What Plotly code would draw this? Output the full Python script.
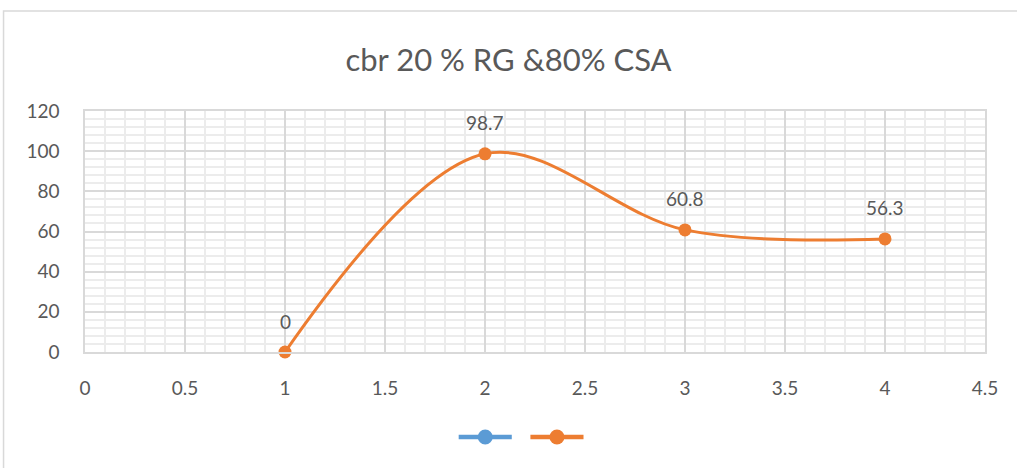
import plotly.graph_objects as go

# CBR test results for the 20 % RG / 80 % CSA mix
x_vals = [1, 2, 3, 4]
cbr_vals = [0, 98.7, 60.8, 56.3]
label_texts = ["0", "98.7", "60.8", "56.3"]

title_text = "cbr 20 % RG &80% CSA"
x_ticks = [0, 0.5, 1, 1.5, 2, 2.5, 3, 3.5, 4, 4.5]
x_tick_text = ["0", "0.5", "1", "1.5", "2", "2.5", "3", "3.5", "4", "4.5"]
y_ticks = [0, 20, 40, 60, 80, 100, 120]

BLUE = "#5B9BD5"
ORANGE = "#ED7D31"
TEXT = "#595959"
FONT = "Lato, 'Open Sans', sans-serif"

fig = go.Figure()

fig.add_trace(go.Scatter(
    x=x_vals, y=cbr_vals, name="", mode="lines+markers",
    line=dict(color=ORANGE, width=3, shape="spline", smoothing=1),
    marker=dict(size=13, color=ORANGE),
    cliponaxis=False, showlegend=False,
))

for xv, yv, t in zip(x_vals, cbr_vals, label_texts):
    fig.add_annotation(x=xv, y=yv, text=t, showarrow=False, yshift=31,
                       font=dict(size=19, color=TEXT, family=FONT))

# outer chart frame
fig.add_shape(type="rect", xref="paper", yref="paper",
              x0=-0.0905, x1=1.3, y0=-2, y1=1.415,
              line=dict(color="#d9d9d9", width=1.5), layer="below")

# legend keys (two unnamed series: blue and orange) drawn below the plot
LEG_Y = -0.3527
for colour, cx in [(BLUE, 0.4447), (ORANGE, 0.5244)]:
    fig.add_shape(type="line", xref="paper", yref="paper",
                  x0=cx - 0.0295, x1=cx + 0.0295, y0=LEG_Y, y1=LEG_Y,
                  line=dict(color=colour, width=4.5))
    fig.add_shape(type="circle", xref="paper", yref="paper",
                  xsizemode="pixel", ysizemode="pixel",
                  xanchor=cx, yanchor=LEG_Y, x0=-7.5, x1=7.5, y0=-7.5, y1=7.5,
                  fillcolor=colour, line=dict(color=colour, width=0))

fig.update_layout(
    width=1017, height=468,
    margin=dict(l=85, r=32, t=111, b=116),
    paper_bgcolor="white", plot_bgcolor="white",
    font=dict(family=FONT, color=TEXT, size=19),
    title=dict(text=title_text, x=0.5, xanchor="center", y=0.872, yanchor="middle",
               font=dict(size=31, color=TEXT, family=FONT)),
    showlegend=False,
    xaxis=dict(range=[0, 4.5], tickvals=x_ticks, ticktext=x_tick_text,
               showgrid=True, gridcolor="#d9d9d9", gridwidth=1.5,
               minor=dict(dtick=0.1, showgrid=True, gridcolor="#ececec", gridwidth=1.5),
               zeroline=False, showline=True, linecolor="#d9d9d9", linewidth=1.5,
               mirror=True, ticks="", ticklabelstandoff=18,
               tickfont=dict(size=19, color=TEXT)),
    yaxis=dict(range=[0, 120], tickvals=y_ticks,
               showgrid=True, gridcolor="#d9d9d9", gridwidth=1.5,
               minor=dict(dtick=4, showgrid=True, gridcolor="#ececec", gridwidth=1.5),
               zeroline=False, showline=True, linecolor="#d9d9d9", linewidth=1.5,
               mirror=True, ticks="", ticklabelstandoff=20,
               tickfont=dict(size=19, color=TEXT)),
)

fig.write_html("out.html")
